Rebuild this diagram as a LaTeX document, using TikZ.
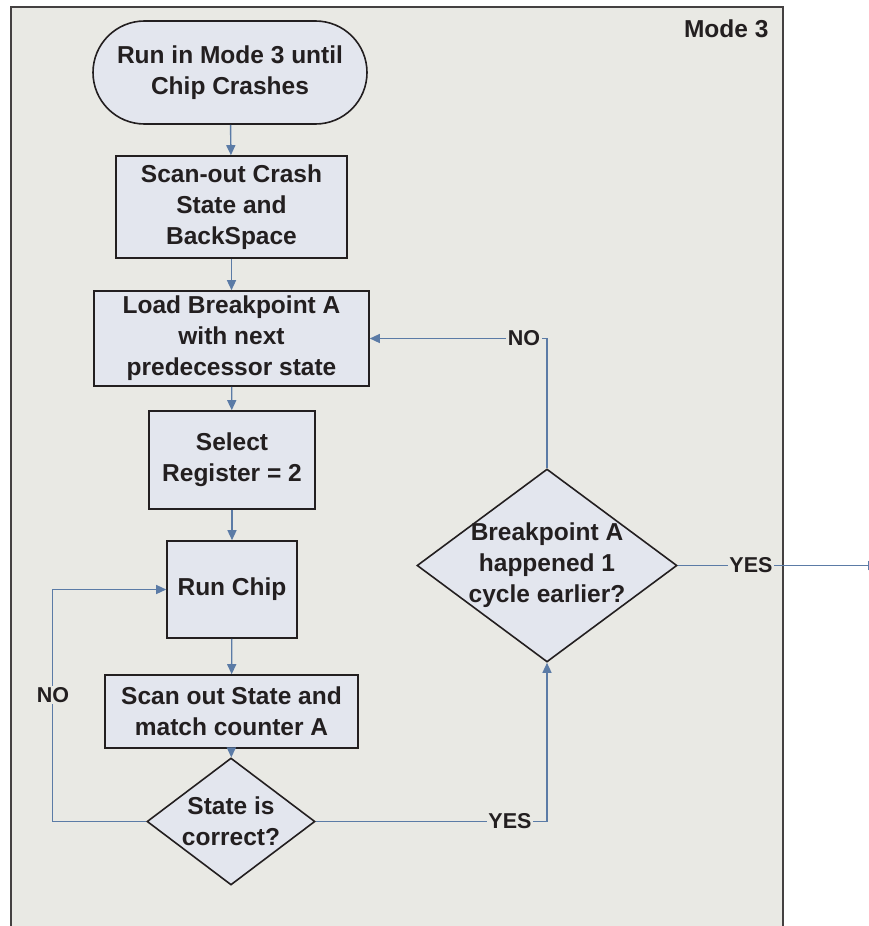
\documentclass[tikz,border=0pt]{standalone}
\usepackage{fontspec}
\setmainfont{Liberation Sans}
\usetikzlibrary{shapes.geometric,shapes.misc,arrows.meta}
\definecolor{panel}{HTML}{E9E9E4}
\definecolor{boxfill}{HTML}{E3E6EE}
\definecolor{ink}{HTML}{231F20}
\definecolor{wire}{HTML}{5B7BA6}
\begin{document}
\begin{tikzpicture}[x=1pt,y=-1pt,
  every node/.style={text=ink,font=\fontsize{24.5}{31}\selectfont\bfseries},
  stepbox/.style={draw=ink,line width=1.6pt,fill=boxfill,align=center,inner sep=0pt},
  termbox/.style={rounded rectangle,draw=ink,line width=1.6pt,fill=boxfill,align=center,inner sep=0pt},
  decision/.style={diamond,draw=ink,line width=1.6pt,fill=boxfill,inner sep=0pt},
  conn/.style={draw=wire,line width=1.4pt,-{Triangle[length=10pt,width=9pt]}},
  tag/.style={fill=panel,inner sep=1.5pt,font=\fontsize{21.5}{24}\selectfont\bfseries}]
  \useasboundingbox (0,0) rectangle (869,926);
  % mode panel (runs past the lower edge)
  \draw[draw=ink!85,line width=1.6pt,fill=panel] (11,7) rectangle (783,960);
  \node[anchor=east] (mode) at (772,29) {Mode 3};

  % main column
  \node[termbox,minimum width=274pt,minimum height=103pt] (start) at (230,72.5) {Run in Mode 3 until\\Chip Crashes};
  \node[stepbox,minimum width=231pt,minimum height=102pt] (scan) at (231.5,207) {Scan-out Crash\\State and\\BackSpace};
  \node[stepbox,minimum width=275pt,minimum height=95pt] (load) at (231.5,338.5) {Load Breakpoint A\\with next\\predecessor state};
  \node[stepbox,minimum width=166pt,minimum height=98pt] (sel) at (232,460) {Select\\Register = 2};
  \node[stepbox,minimum width=130pt,minimum height=97pt] (run) at (232,589.5) {Run Chip};
  \node[stepbox,minimum width=253pt,minimum height=73pt] (match) at (231.5,711.5) {Scan out State and\\match counter A};
  \node[decision,minimum width=168pt,minimum height=127pt] (ok) at (231,821.5) {};
  \node[align=center] (okt) at (ok.center) {State is\\correct?};

  % right-hand decision
  \node[decision,minimum width=260pt,minimum height=193pt] (bp) at (547,565.5) {};
  \node[align=center] (bpt) at (bp.center) {Breakpoint A\\happened 1\\cycle earlier?};
  \coordinate (exit) at (878,565.5);

  % connectors
  \draw[conn] (start) -- (scan);
  \draw[conn] (scan) -- (load);
  \draw[conn] (load) -- (sel);
  \draw[conn] (sel) -- (run);
  \draw[conn] (run) -- (match);
  \draw[conn] (match) -- (ok);
  \draw[conn] (ok.west) -- ++(-94,0) |- (run.west);
  \draw[conn] (ok.east) -| (bp.south);
  \draw[conn] (bp.north) |- (load.east);
  \draw[conn] (bp.east) -- (exit);

  % branch labels
  \node[tag] (no1) at (53,695) {NO};
  \node[tag] (yes1) at (510,821.5) {YES};
  \node[tag] (no2) at (524,338.5) {NO};
  \node[tag] (yes2) at (751,565.5) {YES};
\end{tikzpicture}
\end{document}
